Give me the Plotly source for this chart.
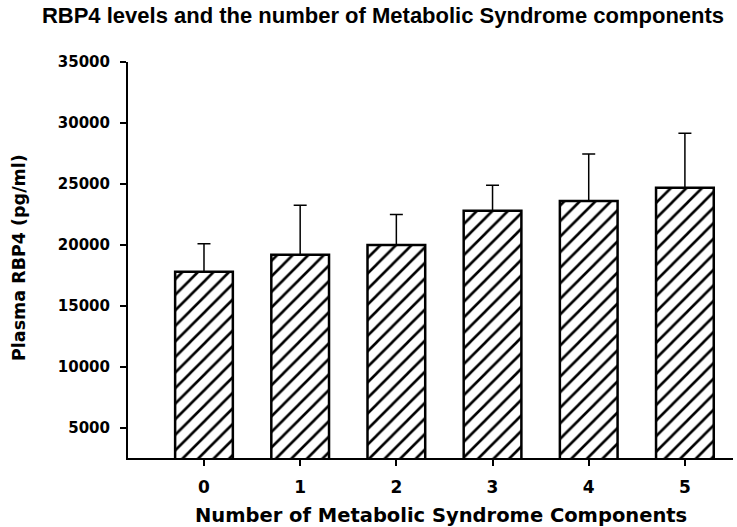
import plotly.graph_objects as go

categories = [0, 1, 2, 3, 4, 5]
tick_labels = ["0", "1", "2", "3", "4", "5"]
rbp4_mean = [17800, 19200, 20000, 22800, 23600, 24700]
rbp4_err = [2300, 4050, 2500, 2100, 3850, 4450]
y_ticks = [5000, 10000, 15000, 20000, 25000, 30000, 35000]

W, H = 737, 527
L, R, T, B = 128, 4, 62, 69
pw, ph = W - L - R, H - T - B

def px(x):
    return (x - L) / pw

def py(y):
    return (H - B - y) / ph

fig = go.Figure()
fig.add_trace(go.Bar(
    x=categories,
    y=rbp4_mean,
    width=0.6,
    marker=dict(
        color="white",
        line=dict(color="black", width=2.5),
        pattern=dict(shape="/", fgcolor="black", fgopacity=1, bgcolor="white",
                     size=11, solidity=0.24),
    ),
    error_y=dict(type="data", symmetric=False, array=rbp4_err, arrayminus=[0] * 6,
                 color="black", thickness=1.5, width=6.5),
    showlegend=False,
))

axis_font = "DejaVu Sans"
fig.update_layout(
    width=W, height=H,
    margin=dict(l=L, r=R, t=T, b=B, autoexpand=False),
    paper_bgcolor="white", plot_bgcolor="white",
    title=dict(text="<b>RBP4 levels and the number of Metabolic Syndrome components</b>",
               x=383 / W, xanchor="center", xref="container",
               y=1 - 15 / H, yanchor="middle", yref="container",
               font=dict(family="Liberation Sans, Arial", size=22, color="black")),
    xaxis=dict(range=[-0.79, 5.5], tickmode="array", tickvals=categories, ticktext=tick_labels,
               showline=True, linecolor="black", linewidth=2, ticks="outside", ticklen=6,
               tickwidth=1.5, tickcolor="black", showgrid=False, zeroline=False,
               tickfont=dict(family=axis_font, size=17, color="black", weight="bold"),
               ticklabelstandoff=7),
    yaxis=dict(range=[2540, 35000], tickmode="array", tickvals=y_ticks,
               ticktext=[str(v) for v in y_ticks],
               showline=True, linecolor="black", linewidth=2, ticks="outside", ticklen=6,
               tickwidth=1.5, tickcolor="black", showgrid=False, zeroline=False,
               tickfont=dict(family=axis_font, size=15, color="black", weight="bold"),
               ticklabelstandoff=7),
    annotations=[
        dict(text="<b>Plasma RBP4 (pg/ml)</b>", xref="paper", yref="paper",
             x=px(19), y=py(258), xanchor="center", yanchor="middle", textangle=-90,
             showarrow=False, font=dict(family=axis_font, size=17.5, color="black")),
        dict(text="<b>Number of Metabolic Syndrome Components</b>", xref="paper", yref="paper",
             x=px(441), y=py(515), xanchor="center", yanchor="middle",
             showarrow=False, font=dict(family=axis_font, size=19.5, color="black")),
    ],
)

fig.write_html("out.html", config={"displayModeBar": False},
               post_script="document.body.style.margin='0';document.body.style.overflow='hidden';")
